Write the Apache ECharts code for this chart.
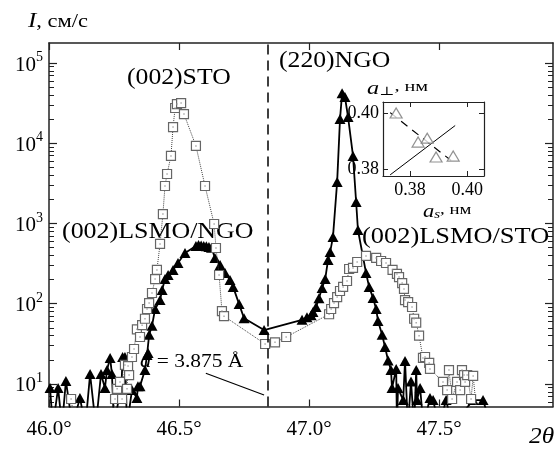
<!DOCTYPE html>
<html>
<head>
<meta charset="utf-8">
<script src="https://cdn.jsdelivr.net/npm/echarts@6/dist/echarts.min.js"></script>
<style>html,body{margin:0;padding:0;background:#fff}#chart{width:554px;height:453px}</style>
</head>
<body>
<div id="chart"></div>
<script>
// NGO sample, filled triangles (2theta, counts/s); values of 3 are dips below the axis
var ngoX = [46.004,46.015,46.035,46.05,46.065,46.09,46.119,46.14,46.158,46.18,46.2,46.215,46.223,46.235,46.242,46.25,
  46.279,46.283,46.292,46.3,46.319,46.338,46.342,46.35,46.369,46.377,46.381,46.385,46.396,46.408,46.427,46.435,46.446,
  46.458,46.477,46.496,46.523,46.565,46.575,46.585,46.595,46.605,46.615,46.625,46.638,46.658,46.677,46.696,46.708,
  46.731,46.75,46.827,46.973,46.992,47.008,47.015,47.027,47.038,47.05,47.062,47.073,47.081,47.092,47.108,47.119,
  47.127,47.138,47.15,47.169,47.181,47.188,47.219,47.231,47.246,47.258,47.265,47.281,47.292,47.304,47.315,47.319,
  47.335,47.338,47.342,47.362,47.369,47.38,47.392,47.404,47.412,47.415,47.427,47.44,47.465,47.477,47.5,47.527,
  47.55,47.631,47.669,47.7];
var ngoY = [8.9,3,8.9,3,10.9,3,6.7,3,13.3,3,13.3,8.9,14.9,21.1,13.3,3,
  10.3,21.7,21.7,3,8.4,6.7,9.4,9.4,14.9,23,24.3,41,53,86,111,148,203,
  228,264,322,429,525,540,530,525,520,510,500,372,304,242,198,162,
  99,66,47,63,68,72,79,91,117,157,203,351,440,680,3300,20000,
  42000,37700,21200,6940,1850,830,242,162,118,86,61,41,28.9,19.6,14.9,8.9,
  15.4,3,8.9,6.3,19.4,3,10.7,3,14.9,6.3,8.9,3,6.7,6.3,3,6.3,
  3,6.3,6.3,3];

// STO sample, open squares
var stoX = [46.085,46.1,46.24,46.254,46.262,46.273,46.281,46.292,46.3,46.304,46.308,46.319,46.327,46.338,46.35,46.358,
  46.369,46.377,46.385,46.396,46.408,46.415,46.427,46.438,46.446,46.454,46.469,46.477,46.485,46.492,46.508,46.519,
  46.565,46.6,46.635,46.642,46.654,46.665,46.673,46.831,46.869,46.912,47.077,47.085,47.096,47.108,47.119,47.131,
  47.146,47.154,47.169,47.185,47.219,47.258,47.277,47.296,47.321,47.338,47.346,47.358,47.365,47.369,47.381,47.396,
  47.404,47.412,47.423,47.438,47.446,47.462,47.465,47.515,47.531,47.538,47.55,47.569,47.581,47.588,47.596,47.6,
  47.608,47.623,47.631,47.65];
var stoY = [6.5,3,3,6.5,8.7,10.6,6.5,17.3,8.7,16.7,12.9,21.7,27.3,48,38.5,54,
  65,86,102,136,203,264,556,1310,2930,4140,6940,15900,27500,30800,31700,23100,
  9250,2930,986,495,228,81,70,31.5,33,38.5,74,86,102,121,144,162,
  192,271,279,331,394,372,341,322,264,235,215,181,153,111,105,91,
  65,58,40,21.1,21.7,18.3,15.4,10.6,8.4,14.9,6.5,10.6,8.4,14.9,12.9,10.6,
  12.9,6.5,12.6,3];

// inset: a_s vs a_perp (nm)
var insetAs = [0.3751,0.3828,0.3860,0.3891,0.3951];
var insetAp = [0.4000,0.3896,0.3910,0.3843,0.3846];
var dashAs = [0.3730,0.3944];
var dashAp = [0.4001,0.3830];
var solidAs = [0.3730,0.3958];
var solidAp = [0.3779,0.3955];

// ticks
var xTicks = [46.0,46.5,47.0,47.5];
var yMajor = [10,100,1000,10000,100000];
var yMinor = [6,7,8,9,20,30,40,50,60,70,80,90,200,300,400,500,600,700,800,900,
  2000,3000,4000,5000,6000,7000,8000,9000,20000,30000,40000,50000,60000,70000,80000,90000];
var insetTicks = [0.38,0.40];
var boundary = 46.838;

var font = "'Liberation Serif', 'DejaVu Serif', serif";
var box = {color: '#222', width: 1.5};
var chart = echarts.init(document.getElementById('chart'));

function zip(a, b) { return a.map(function (v, i) { return [v, b[i]]; }); }

var yMin = 5.24, yMax = 177500;

chart.setOption({
  animation: false,
  grid: [
    {left: 49, right: 1, top: 43, bottom: 46.5},
    {left: 49, right: 1, top: 43, bottom: 46.5},
    {left: 383, top: 102, width: 101, height: 74}
  ],
  xAxis: [
    {type: 'value', gridIndex: 0, position: 'bottom', min: 46, max: 47.938,
      axisLine: {lineStyle: box}, splitLine: {show: false},
      axisTick: {inside: true, length: 7, customValues: xTicks, lineStyle: {color: '#222', width: 1.2}},
      axisLabel: {customValues: xTicks, margin: 12, color: '#000', fontFamily: font, fontSize: 21,
        formatter: function (v) { return v.toFixed(1) + '°'; }}},
    {type: 'value', gridIndex: 0, position: 'top', min: 46, max: 47.938,
      axisLine: {lineStyle: box}, splitLine: {show: false}, axisLabel: {show: false},
      axisTick: {inside: true, length: 7, customValues: xTicks, lineStyle: {color: '#222', width: 1.2}}},
    {type: 'value', gridIndex: 1, show: false, min: 0, max: 1},
    {type: 'value', gridIndex: 2, position: 'bottom', min: 0.3705, max: 0.4059,
      axisLine: {lineStyle: {color: '#222', width: 1.2}}, splitLine: {show: false},
      axisTick: {inside: true, length: 5, customValues: insetTicks, lineStyle: {color: '#222'}},
      axisLabel: {customValues: insetTicks, margin: 5, color: '#000', fontFamily: font, fontSize: 18,
        formatter: function (v) { return v.toFixed(2); }}},
    {type: 'value', gridIndex: 2, position: 'top', min: 0.3705, max: 0.4059,
      axisLine: {lineStyle: {color: '#222', width: 1.2}}, splitLine: {show: false}, axisLabel: {show: false},
      axisTick: {inside: true, length: 5, customValues: insetTicks, lineStyle: {color: '#222'}}}
  ],
  yAxis: [
    {type: 'log', gridIndex: 0, position: 'left', min: yMin, max: yMax,
      axisLine: {lineStyle: box}, splitLine: {show: false},
      axisTick: {inside: true, length: 8, customValues: yMajor, lineStyle: {color: '#222', width: 1.2}},
      axisLabel: {customValues: yMajor, margin: 6, color: '#000',
        formatter: function (v) { return '{b|10}{s|' + Math.round(Math.log10(v)) + '}'; },
        rich: {
          b: {fontFamily: font, fontSize: 21, lineHeight: 25, verticalAlign: 'bottom', color: '#000'},
          s: {fontFamily: font, fontSize: 14, lineHeight: 14, verticalAlign: 'top', color: '#000'}
        }}},
    {type: 'log', gridIndex: 0, position: 'right', min: yMin, max: yMax,
      axisLine: {lineStyle: box}, splitLine: {show: false}, axisLabel: {show: false},
      axisTick: {inside: true, length: 8, customValues: yMajor, lineStyle: {color: '#222', width: 1.2}}},
    {type: 'log', gridIndex: 1, position: 'left', min: yMin, max: yMax,
      axisLine: {show: false}, splitLine: {show: false}, axisLabel: {show: false},
      axisTick: {inside: true, length: 5, customValues: yMinor, lineStyle: {color: '#222'}}},
    {type: 'log', gridIndex: 1, position: 'right', min: yMin, max: yMax,
      axisLine: {show: false}, splitLine: {show: false}, axisLabel: {show: false},
      axisTick: {inside: true, length: 5, customValues: yMinor, lineStyle: {color: '#222'}}},
    {type: 'value', gridIndex: 2, position: 'left', min: 0.3775, max: 0.4039,
      axisLine: {lineStyle: {color: '#222', width: 1.2}}, splitLine: {show: false},
      axisTick: {inside: true, length: 5, customValues: insetTicks, lineStyle: {color: '#222'}},
      axisLabel: {customValues: insetTicks, margin: 4, color: '#000', fontFamily: font, fontSize: 18,
        formatter: function (v) { return v.toFixed(2); }}},
    {type: 'value', gridIndex: 2, position: 'right', min: 0.3775, max: 0.4039,
      axisLine: {lineStyle: {color: '#222', width: 1.2}}, splitLine: {show: false}, axisLabel: {show: false},
      axisTick: {inside: true, length: 5, customValues: insetTicks, lineStyle: {color: '#222'}}}
  ],
  series: [
    {
      name: 'NGO', type: 'line', xAxisIndex: 0, yAxisIndex: 0,
      data: zip(ngoX, ngoY),
      symbol: 'triangle', symbolSize: [11, 10],
      itemStyle: {color: '#000'},
      lineStyle: {color: '#000', width: 1.8},
      z: 3,
      markLine: {
        silent: true, symbol: 'none', label: {show: false},
        data: [
          {xAxis: boundary, lineStyle: {color: '#000', width: 1.5, type: [10, 6]}},
          [{coord: [46.603, 13.6], lineStyle: {color: '#000', width: 1.2, type: 'solid'}}, {coord: [46.827, 7.3]}]
        ]
      }
    },
    {
      name: 'STO', type: 'line', xAxisIndex: 0, yAxisIndex: 0,
      data: zip(stoX, stoY),
      symbol: 'rect', symbolSize: 9,
      itemStyle: {color: '#fff', borderColor: '#666', borderWidth: 1.2},
      lineStyle: {color: '#444', width: 1, type: 'dotted'},
      z: 4
    },
    {
      type: 'scatter', xAxisIndex: 0, yAxisIndex: 0,
      data: zip(stoX, stoY), symbol: 'rect', symbolSize: 1.5,
      itemStyle: {color: '#999'}, z: 5, silent: true
    },
    {
      type: 'line', xAxisIndex: 3, yAxisIndex: 4, data: zip(dashAs, dashAp),
      showSymbol: false, lineStyle: {color: '#000', width: 1.2, type: [8, 6]}
    },
    {
      type: 'line', xAxisIndex: 3, yAxisIndex: 4, data: zip(solidAs, solidAp),
      showSymbol: false, lineStyle: {color: '#000', width: 1}
    },
    {
      type: 'scatter', xAxisIndex: 3, yAxisIndex: 4, data: zip(insetAs, insetAp),
      symbol: 'triangle', symbolSize: [12, 10],
      itemStyle: {color: '#fff', borderColor: '#777', borderWidth: 1.2}, z: 5
    }
  ],
  graphic: [
    {type: 'text', x: 28, y: 22, scaleX: 1.25, style: {text: '{i|I}{t|, см/с}', textVerticalAlign: 'middle',
      rich: {i: {font: 'italic 20px ' + font, fill: '#000'}, t: {font: '18px ' + font, fill: '#000'}}}},
    {type: 'text', x: 529, y: 437, scaleX: 1.1, style: {text: '2θ', font: 'italic 23px ' + font, fill: '#000', textVerticalAlign: 'middle'}},
    {type: 'text', x: 127, y: 78, scaleX: 1.07, style: {text: '(002)STO', font: '24px ' + font, fill: '#000', textVerticalAlign: 'middle'}},
    {type: 'text', x: 279, y: 61, scaleX: 1.07, style: {text: '(220)NGO', font: '24px ' + font, fill: '#000', textVerticalAlign: 'middle'}},
    {type: 'text', x: 62, y: 232, scaleX: 1.08, style: {text: '(002)LSMO/NGO', font: '24px ' + font, fill: '#000', textVerticalAlign: 'middle'}},
    {type: 'text', x: 362, y: 237, scaleX: 1.1, style: {text: '(002)LSMO/STO', font: '24px ' + font, fill: '#000', textVerticalAlign: 'middle'}},
    {type: 'text', x: 140, y: 362, scaleX: 1.13, style: {text: '{i|a} = 3.875 Å', font: '19px ' + font, fill: '#000', textVerticalAlign: 'middle',
      rich: {i: {font: 'italic 20px ' + font, fill: '#000'}}}},
    {type: 'text', x: 367, y: 89, scaleX: 1.35, style: {text: '{i|a}{s|⊥}{t|, нм}', textVerticalAlign: 'middle',
      rich: {i: {font: 'italic 18px ' + font, fill: '#000', lineHeight: 18, verticalAlign: 'top'},
        s: {font: '12px ' + font, fill: '#000', lineHeight: 12, verticalAlign: 'bottom'},
        t: {font: '15px ' + font, fill: '#000', lineHeight: 18, verticalAlign: 'top'}}}},
    {type: 'text', x: 423, y: 212, scaleX: 1.25, style: {text: '{i|a}{s|s}{t|, нм}', textVerticalAlign: 'middle',
      rich: {i: {font: 'italic 18px ' + font, fill: '#000', lineHeight: 18, verticalAlign: 'top'},
        s: {font: 'italic 12px ' + font, fill: '#000', lineHeight: 12, verticalAlign: 'bottom'},
        t: {font: '15px ' + font, fill: '#000', lineHeight: 18, verticalAlign: 'top'}}}}
  ]
});
</script>
</body>
</html>
